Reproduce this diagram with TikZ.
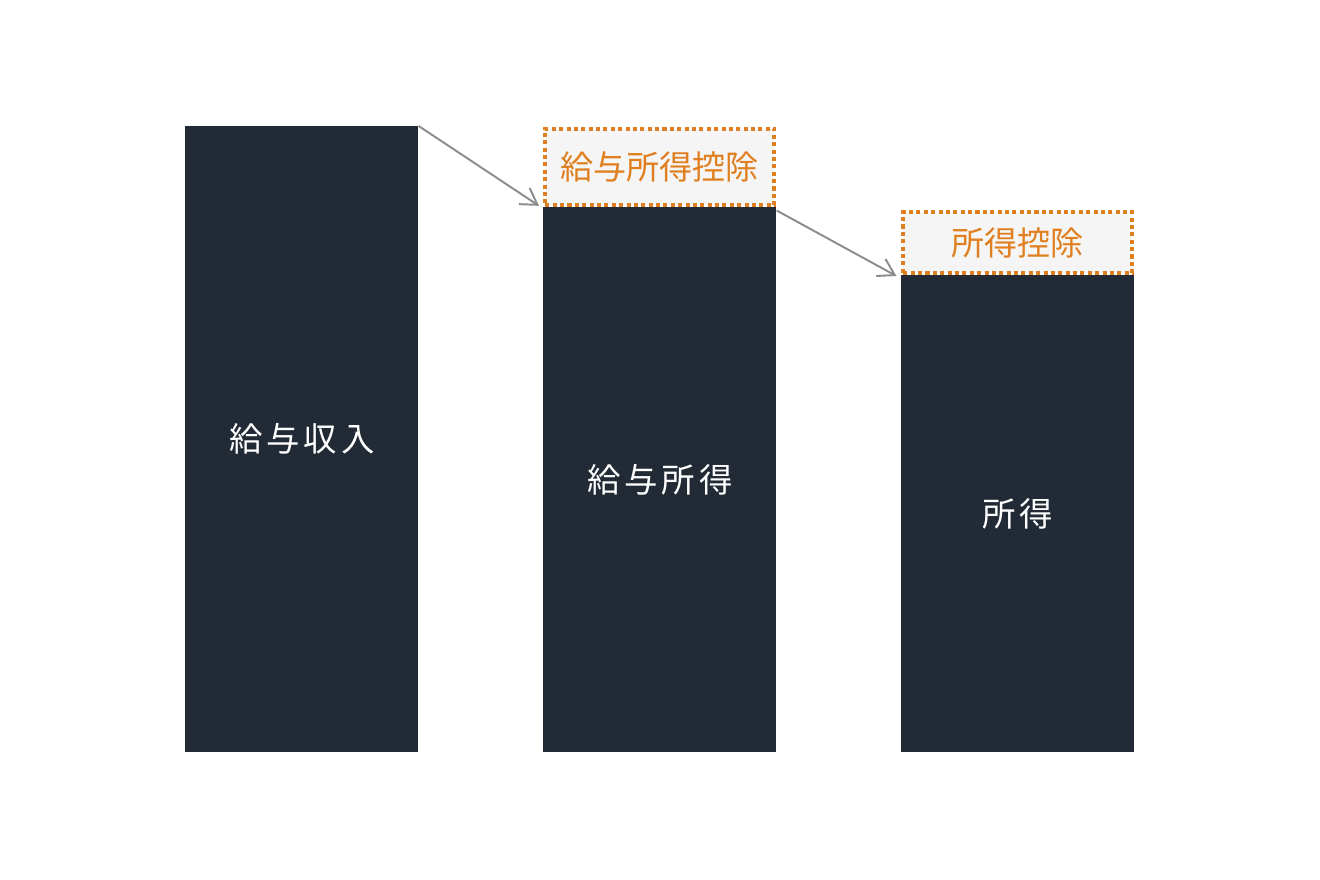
\documentclass[tikz,border=0pt]{standalone}
\usepackage{fontspec}
\setmainfont{Noto Sans CJK JP}
\usepackage{tikz}
\usetikzlibrary{arrows.meta, positioning}
\definecolor{mynavy}{RGB}{33,42,53}
\definecolor{myorange}{RGB}{224,127,32}
\definecolor{mygray}{RGB}{140,140,140}
\definecolor{lightgray}{RGB}{245,245,245}

\begin{document}
\begin{tikzpicture}[x=0.02cm,y=-0.02cm,
    bar/.style={fill=mynavy,text=white,minimum width=4.66cm,anchor=north west,inner sep=0pt,
        font=\fontsize{19}{22}\selectfont\addfontfeature{LetterSpace=12}},
    deduct/.style={draw=myorange,line width=2.2pt,dash pattern=on 2.3pt off 1.9pt,fill=lightgray,
        text=myorange,minimum width=4.58cm,inner sep=0pt,font=\fontsize{18.8}{22}\selectfont},
    flow/.style={-{Straight Barb[length=9pt,width=11pt]},mygray,line width=1.1pt}]
    \useasboundingbox[fill=white] (0,0) rectangle (1320,880);

    % Salary income
    \node[bar,minimum height=12.52cm] (income) at (185,126) {給与収入};

    % Salary income after deduction
    \node[bar,minimum height=10.9cm] (salary) at (543,207) {給与所得};
    \node[deduct,minimum height=1.53cm,above=0pt of salary] (salded) {給与所得控除};

    % Income
    \node[bar,minimum height=9.54cm] (net) at (901,275) {所得};
    \node[deduct,minimum height=1.22cm,above=0pt of net] (netded) {所得控除};

    % Arrows
    \draw[flow,shorten >=3pt] (income.north east) -- ([yshift=-1pt]salded.south west);
    \draw[flow,shorten >=3pt] ([yshift=-2pt]salary.north east) -- ([yshift=-2pt]net.north west);
\end{tikzpicture}
\end{document}
